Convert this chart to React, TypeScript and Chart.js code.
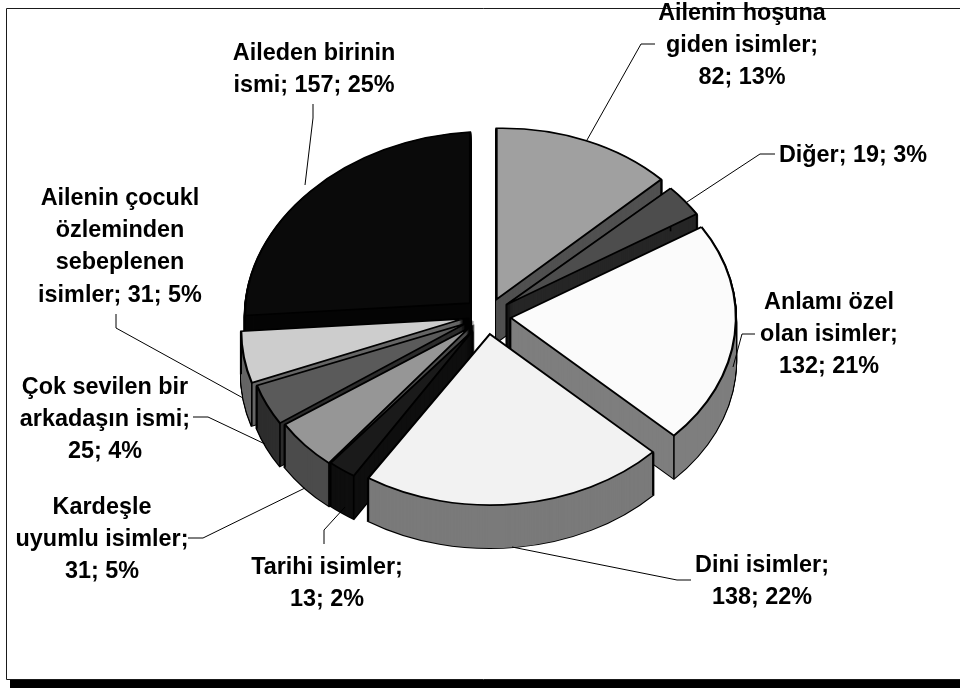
import React, { useEffect, useRef } from "react";
import { Chart, registerables } from "chart.js";

Chart.register(...registerables);

const categories = [
  "Ailenin hoşuna giden isimler",
  "Diğer",
  "Anlamı özel olan isimler",
  "Dini isimler",
  "Tarihi isimler",
  "Kardeşle uyumlu isimler",
  "Çok sevilen bir arkadaşın ismi",
  "Ailenin çocukl özleminden sebeplenen isimler",
  "Aileden birinin ismi",
];
const values = [82, 19, 132, 138, 13, 31, 25, 31, 157];
const topColors = ["#a0a0a0", "#4d4d4d", "#fbfbfb", "#f2f2f2", "#1a1a1a", "#969696", "#5a5a5a", "#cdcdcd", "#0a0a0a"];
const sideColors = ["#505050", "#262626", "#7e7e7e", "#7a7a7a", "#0e0e0e", "#4b4b4b", "#2d2d2d", "#666666", "#050505"];
const labelLines = [
  ["Ailenin hoşuna", "giden isimler;", "82; 13%"],
  ["Diğer; 19; 3%"],
  ["Anlamı özel", "olan isimler;", "132; 21%"],
  ["Dini isimler;", "138; 22%"],
  ["Tarihi isimler;", "13; 2%"],
  ["Kardeşle", "uyumlu isimler;", "31; 5%"],
  ["Çok sevilen bir", "arkadaşın ismi;", "25; 4%"],
  ["Ailenin çocukl", "özleminden", "sebeplenen", "isimler; 31; 5%"],
  ["Aileden birinin", "ismi; 157; 25%"],
];

// Layout of the drawing (not data)
const PIE = { cx: 487, cy: 316, radius: 225, squash: 0.76, depth: 43, explode: 24 };
const paintOrder = [0, 8, 1, 2, 7, 6, 5, 4, 3];
const sliceShear = [-0.02, 0, 0, 0, -0.01, -0.03, -0.045, -0.055, -0.055];
const sliceWidth = [1, 1, 1, 1, 0.98, 0.965, 0.972, 0.987, 1];
const labelAnchors = [
  { x: 742, y: 19 },
  { x: 853, y: 161 },
  { x: 829, y: 308 },
  { x: 762, y: 571 },
  { x: 327, y: 573 },
  { x: 102, y: 513 },
  { x: 105, y: 393 },
  { x: 120, y: 204 },
  { x: 314, y: 59 },
];
const leaders = [
  [[655, 44], [641, 44], [587, 140]],
  [[775, 154], [760, 154], [687, 202]],
  [[755, 334], [742, 334], [733, 367]],
  [[691, 580], [677, 580], [512, 547]],
  [[324, 544], [324, 530], [345, 507]],
  [[188, 538], [203, 538], [305, 488]],
  [[193, 417], [208, 417], [265, 444]],
  [[116, 314], [116, 328], [243, 398]],
  [[313, 104], [313, 118], [305, 185]],
];

const baseArcOptions = {
  offset: 0, spacing: 0, circular: true, borderAlign: "center", borderRadius: 0,
  borderDash: [], borderDashOffset: 0, borderJoinStyle: "miter",
};

const pie3d = {
  id: "pie3d",
  beforeDraw(chart: any) {
    const ctx = chart.ctx;
    ctx.save();
    ctx.fillStyle = "#ffffff";
    ctx.fillRect(0, 0, 960, 688);
    ctx.fillStyle = "#000000";
    ctx.fillRect(10, 680, 950, 8);
    ctx.strokeStyle = "#1a1a1a";
    ctx.lineWidth = 1;
    ctx.beginPath();
    ctx.moveTo(960, 8.5);
    ctx.lineTo(6.5, 8.5);
    ctx.lineTo(6.5, 679.5);
    ctx.lineTo(960, 679.5);
    ctx.stroke();
    ctx.restore();
  },
  beforeDatasetDraw(chart: any) {
    const ctx = chart.ctx;
    const arcs = chart.getDatasetMeta(0).data;
    const { cx, cy, squash, depth, explode } = PIE;

    const place = (arc: any, i: number, drop: number) => {
      const mid = (arc.startAngle + arc.endAngle) / 2;
      const ox = cx + Math.cos(mid) * explode;
      const oy = cy + Math.sin(mid) * explode * squash + drop;
      ctx.transform(sliceWidth[i], sliceShear[i], 0, squash, ox, oy);
      ctx.translate(-arc.x, -arc.y);
    };
    const paint = (arc: any, i: number, drop: number, fill: string, stroke: string, width: number) => {
      const saved = arc.options;
      arc.options = { ...baseArcOptions, backgroundColor: fill, borderColor: stroke, borderWidth: width };
      ctx.save();
      place(arc, i, drop);
      arc.draw(ctx);
      ctx.restore();
      arc.options = saved;
    };

    paintOrder.forEach((i) => {
      const arc = arcs[i];
      for (let d = depth; d >= 1; d -= 1) paint(arc, i, d, "#000000", "#000000", 2.6);
      for (let d = depth; d >= 1; d -= 1) paint(arc, i, d, sideColors[i], sideColors[i], 0);
      [arc.startAngle, arc.endAngle].forEach((a: number) => {
        const mid = (arc.startAngle + arc.endAngle) / 2;
        const ox = cx + Math.cos(mid) * explode;
        const oy = cy + Math.sin(mid) * explode * squash;
        const px = Math.cos(a) * arc.outerRadius;
        const py = Math.sin(a) * arc.outerRadius;
        const x = ox + sliceWidth[i] * px;
        const y = oy + sliceShear[i] * px + squash * py;
        ctx.save();
        ctx.strokeStyle = "#000000";
        ctx.lineWidth = 1.6;
        ctx.beginPath();
        ctx.moveTo(x, y);
        ctx.lineTo(x, y + depth);
        ctx.stroke();
        ctx.restore();
      });
      paint(arc, i, 0, topColors[i], "#000000", 2.2);
    });
    return false;
  },
  afterDraw(chart: any) {
    const ctx = chart.ctx;
    ctx.save();
    ctx.strokeStyle = "#000000";
    ctx.lineWidth = 1;
    leaders.forEach((pts) => {
      ctx.beginPath();
      pts.forEach(([x, y], n) => (n === 0 ? ctx.moveTo(x, y) : ctx.lineTo(x, y)));
      ctx.stroke();
    });
    ctx.fillStyle = "#000000";
    ctx.font = 'bold 23.4px "Liberation Sans"';
    ctx.textAlign = "center";
    ctx.textBaseline = "alphabetic";
    labelLines.forEach((lines, i) => {
      lines.forEach((line, n) => {
        ctx.fillText(line, labelAnchors[i].x, labelAnchors[i].y + 0.6 + n * 32.3);
      });
    });
    ctx.restore();
  },
};

export default function App() {
  const ref = useRef<HTMLCanvasElement>(null);
  useEffect(() => {
    const chart = new Chart(ref.current as HTMLCanvasElement, {
      type: "pie",
      data: {
        labels: categories,
        datasets: [{ data: values, backgroundColor: topColors, borderColor: "#000000", borderWidth: 2, radius: PIE.radius }],
      },
      options: {
        responsive: false,
        animation: false,
        events: [],
        layout: { padding: 0 },
        plugins: { legend: { display: false }, tooltip: { enabled: false } },
      },
      plugins: [pie3d],
    } as any);
    return () => chart.destroy();
  }, []);
  return (
    <canvas
      ref={ref}
      width={960}
      height={688}
      style={{ position: "fixed", left: 0, top: 0, width: 960, height: 688 }}
    />
  );
}
